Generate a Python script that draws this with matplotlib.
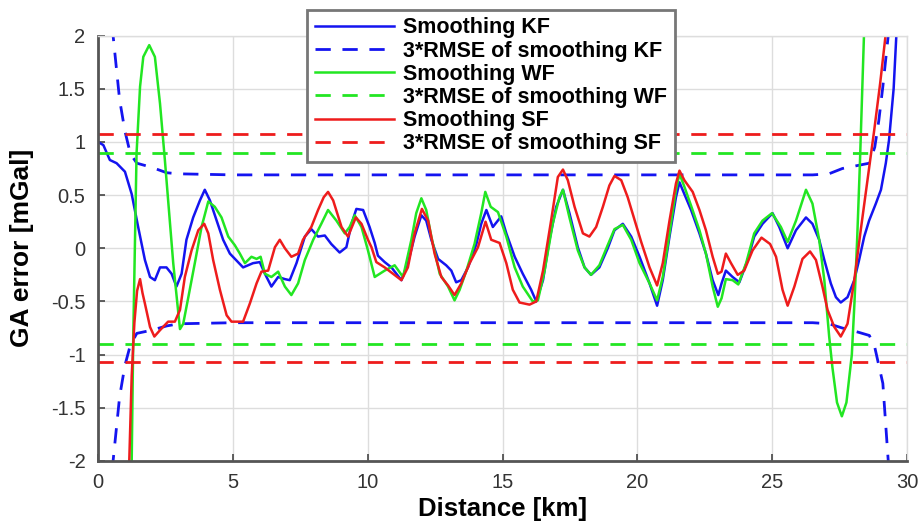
import matplotlib
matplotlib.use("Agg")
import matplotlib.pyplot as plt
import numpy as np

plt.rcParams['font.family'] = ['Liberation Sans', 'DejaVu Sans']
plt.rcParams['axes.unicode_minus'] = False

# smoothing error traces (distance in km, error in mGal)
kf_x = [0.0, 0.2, 0.44, 0.69, 1.0, 1.25, 1.49, 1.74, 1.93, 2.11, 2.3, 2.54, 2.73, 2.91, 3.1, 3.28,
        3.53, 3.78, 3.96, 4.15, 4.4, 4.64, 4.89, 5.38, 5.75, 6.0, 6.19, 6.43, 6.68, 6.93, 7.11,
        7.36, 7.67, 7.91, 8.16, 8.41, 8.65, 8.96, 9.21, 9.4, 9.58, 9.83, 10.07, 10.26, 10.38,
        10.63, 10.88, 11.25, 11.49, 11.74, 11.99, 12.17, 12.36, 12.61, 12.91, 13.1, 13.28,
        13.47, 13.72, 14.03, 14.21, 14.4, 14.64, 14.95, 15.14, 15.45, 15.75, 16.06, 16.25,
        16.5, 16.74, 16.99, 17.24, 17.48, 17.79, 18.04, 18.28, 18.59, 18.9, 19.15, 19.46,
        19.77, 20.08, 20.45, 20.73, 20.94, 21.19, 21.43, 21.56, 21.74, 21.99, 22.3, 22.54,
        22.79, 23.0, 23.12, 23.28, 23.53, 23.78, 24.09, 24.33, 24.64, 25.01, 25.26, 25.57,
        25.88, 26.25, 26.49, 26.74, 26.93, 27.17, 27.36, 27.54, 27.79, 28.04, 28.22, 28.41,
        28.59, 28.84, 29.03, 29.21, 29.33, 29.5, 29.6, 29.7]
kf_y = [1.0, 0.97, 0.83, 0.8, 0.72, 0.51, 0.2, -0.11, -0.27, -0.3, -0.18, -0.18, -0.24, -0.36,
        -0.24, 0.08, 0.29, 0.45, 0.55, 0.45, 0.26, 0.08, -0.05, -0.18, -0.14, -0.13, -0.24,
        -0.36, -0.27, -0.29, -0.3, -0.14, 0.11, 0.18, 0.11, 0.12, 0.04, -0.04, 0.01, 0.23,
        0.37, 0.36, 0.2, 0.05, -0.07, -0.13, -0.18, -0.3, -0.14, 0.11, 0.31, 0.26, 0.08, -0.1,
        -0.16, -0.21, -0.32, -0.3, -0.18, 0.04, 0.23, 0.36, 0.2, 0.3, 0.14, -0.08, -0.24,
        -0.39, -0.5, -0.3, 0.08, 0.39, 0.55, 0.33, 0.01, -0.18, -0.25, -0.18, 0.0, 0.17, 0.23,
        0.11, -0.08, -0.33, -0.54, -0.3, 0.11, 0.48, 0.62, 0.51, 0.36, 0.14, -0.05, -0.3,
        -0.44, -0.33, -0.21, -0.27, -0.32, -0.11, 0.11, 0.23, 0.33, 0.2, 0.0, 0.17, 0.29,
        0.23, 0.08, -0.11, -0.33, -0.46, -0.51, -0.46, -0.3, -0.11, 0.11, 0.26, 0.42, 0.55,
        0.8, 1.02, 1.5, 2.0, 2.4]

wf_x = [1.15, 1.25, 1.31, 1.43, 1.56, 1.68, 1.9, 2.11, 2.3, 2.48, 2.79, 3.04, 3.16, 3.35, 3.59,
        3.84, 4.09, 4.33, 4.58, 4.83, 5.07, 5.26, 5.45, 5.69, 5.88, 6.03, 6.19, 6.43, 6.68,
        6.93, 7.17, 7.42, 7.67, 7.98, 8.28, 8.53, 8.84, 9.15, 9.33, 9.52, 9.77, 10.01, 10.26,
        10.63, 11.0, 11.31, 11.62, 11.8, 11.99, 12.17, 12.36, 12.67, 12.98, 13.22, 13.41,
        13.66, 13.96, 14.21, 14.36, 14.56, 14.83, 15.14, 15.45, 15.75, 16.12, 16.31, 16.56,
        16.86, 17.11, 17.24, 17.48, 17.79, 18.04, 18.28, 18.59, 18.9, 19.15, 19.46, 19.77,
        20.08, 20.45, 20.73, 20.94, 21.19, 21.43, 21.56, 21.74, 21.99, 22.3, 22.54, 22.79,
        22.98, 23.12, 23.28, 23.53, 23.74, 24.03, 24.33, 24.64, 24.99, 25.32, 25.57, 25.88,
        26.25, 26.49, 26.74, 26.93, 27.11, 27.23, 27.4, 27.58, 27.75, 27.95, 28.05, 28.15,
        28.25, 28.35, 28.45]
wf_y = [-2.4, -2.0, -0.8, 0.89, 1.52, 1.8, 1.91, 1.8, 1.36, 0.83, -0.14, -0.76, -0.71, -0.46,
        -0.14, 0.2, 0.44, 0.39, 0.29, 0.11, 0.03, -0.05, -0.14, -0.08, -0.1, -0.08, -0.24,
        -0.27, -0.22, -0.36, -0.44, -0.33, -0.11, 0.08, 0.23, 0.36, 0.26, 0.14, 0.2, 0.31, 0.2,
        -0.02, -0.27, -0.21, -0.16, -0.27, 0.08, 0.33, 0.47, 0.36, 0.11, -0.24, -0.36, -0.49,
        -0.39, -0.21, 0.04, 0.33, 0.53, 0.39, 0.34, 0.11, -0.18, -0.36, -0.5, -0.49, -0.21,
        0.23, 0.48, 0.55, 0.29, -0.02, -0.18, -0.25, -0.16, 0.03, 0.18, 0.22, 0.08, -0.14,
        -0.33, -0.49, -0.27, 0.14, 0.55, 0.7, 0.58, 0.4, 0.17, -0.05, -0.36, -0.55, -0.47,
        -0.29, -0.3, -0.34, -0.14, 0.14, 0.26, 0.33, 0.2, 0.06, 0.26, 0.55, 0.42, 0.08, -0.3,
        -0.83, -1.12, -1.45, -1.58, -1.45, -1.0, -0.5, 0.1, 0.8, 1.6, 2.4]

sf_x = [1.1, 1.16, 1.25, 1.35, 1.45, 1.56, 1.65, 1.74, 1.93, 2.09, 2.3, 2.6, 2.85, 3.04, 3.22,
        3.47, 3.72, 3.94, 4.09, 4.27, 4.52, 4.77, 4.95, 5.38, 5.63, 5.88, 6.06, 6.31, 6.56,
        6.74, 6.93, 7.17, 7.42, 7.6, 7.91, 8.16, 8.37, 8.53, 8.72, 9.03, 9.27, 9.56, 9.77,
        10.01, 10.14, 10.32, 10.63, 10.94, 11.25, 11.49, 11.74, 12.01, 12.24, 12.48, 12.73,
        12.98, 13.22, 13.47, 13.78, 14.09, 14.37, 14.58, 14.89, 15.14, 15.38, 15.63, 16.0,
        16.25, 16.5, 16.8, 17.05, 17.24, 17.42, 17.67, 17.98, 18.22, 18.47, 18.72, 18.96,
        19.15, 19.4, 19.64, 19.89, 20.14, 20.45, 20.73, 20.94, 21.19, 21.43, 21.56, 21.74,
        22.05, 22.3, 22.54, 22.79, 22.98, 23.12, 23.28, 23.47, 23.72, 23.96, 24.27, 24.6,
        24.92, 25.14, 25.38, 25.57, 25.82, 26.12, 26.4, 26.62, 26.86, 27.05, 27.3, 27.54,
        27.79, 28.04, 28.28, 28.53, 28.78, 29.0, 29.2, 29.35]
sf_y = [-2.4, -2.0, -1.2, -0.7, -0.4, -0.29, -0.42, -0.52, -0.74, -0.83, -0.77, -0.69, -0.69,
        -0.58, -0.27, -0.02, 0.17, 0.23, 0.14, -0.11, -0.39, -0.63, -0.69, -0.69, -0.52,
        -0.33, -0.22, -0.21, 0.01, 0.08, 0.0, -0.08, -0.05, 0.08, 0.2, 0.36, 0.48, 0.53, 0.45,
        0.2, 0.11, 0.29, 0.23, 0.08, 0.01, -0.13, -0.18, -0.24, -0.3, -0.18, 0.14, 0.37, 0.26,
        -0.05, -0.27, -0.35, -0.44, -0.33, -0.14, 0.01, 0.25, 0.08, 0.05, -0.14, -0.39,
        -0.51, -0.53, -0.5, -0.21, 0.26, 0.67, 0.74, 0.64, 0.39, 0.14, 0.11, 0.2, 0.39, 0.59,
        0.68, 0.64, 0.48, 0.27, 0.06, -0.18, -0.35, -0.14, 0.26, 0.61, 0.73, 0.64, 0.53, 0.36,
        0.17, -0.08, -0.24, -0.22, -0.05, -0.14, -0.25, -0.21, -0.02, 0.1, 0.04, -0.08, -0.39,
        -0.54, -0.36, -0.1, -0.03, -0.11, -0.36, -0.58, -0.74, -0.83, -0.71, -0.3, 0.17, 0.64,
        1.11, 1.55, 2.0, 2.4]

# 3*RMSE envelopes
kf_env_x = [0.4, 0.56, 0.8, 1.0, 1.2, 1.44, 2.0, 2.55, 3.0, 5.0, 26.5, 27.1, 27.6, 28.2, 28.6,
            28.8, 28.95, 29.1, 29.3, 29.4]
kf_env_up = [2.6, 2.0, 1.4, 1.1, 0.89, 0.8, 0.76, 0.71, 0.70, 0.69, 0.69, 0.70, 0.75, 0.78,
             0.80, 0.95, 1.2, 1.52, 2.0, 2.6]
kf_env_lo = [-2.6, -2.0, -1.4, -1.1, -0.91, -0.80, -0.77, -0.73, -0.71, -0.70, -0.70, -0.71,
             -0.75, -0.79, -0.82, -0.93, -1.1, -1.27, -2.0, -2.6]
wf_env = 0.9
sf_env = 1.07

fig = plt.figure(figsize=(9.2, 5.23), dpi=100)
ax = fig.add_axes([0.1065, 0.1186, 0.8795, 0.8134])

blue = '#1414f0'
green = '#22e622'
red = '#ee1c1c'
dash = (5.5, 4.2)

ax.plot(kf_x, kf_y, color=blue, lw=1.8, label='Smoothing KF')
ax.plot(kf_env_x, kf_env_up, color=blue, lw=2, dashes=dash, label='3*RMSE of smoothing KF')
ax.plot(kf_env_x, kf_env_lo, color=blue, lw=2, dashes=dash)
ax.plot(wf_x, wf_y, color=green, lw=1.8, label='Smoothing WF')
ax.plot([0, 30], [wf_env, wf_env], color=green, lw=2, dashes=dash, label='3*RMSE of smoothing WF')
ax.plot([0, 30], [-wf_env, -wf_env], color=green, lw=2, dashes=dash)
ax.plot(sf_x, sf_y, color=red, lw=1.8, label='Smoothing SF')
ax.plot([0, 30], [sf_env, sf_env], color=red, lw=2, dashes=dash, label='3*RMSE of smoothing SF')
ax.plot([0, 30], [-sf_env, -sf_env], color=red, lw=2, dashes=dash)

ax.set_xlim(0, 30)
ax.set_ylim(-2, 2)
ax.set_xticks(np.arange(0, 31, 5))
ax.set_yticks(np.arange(-2, 2.01, 0.5))
ax.set_yticklabels(['-2', '-1.5', '-1', '-0.5', '0', '0.5', '1', '1.5', '2'])
ax.tick_params(direction='in', length=5, width=1.2, colors='#444444', labelsize=14.5,
               labelcolor='#333333', top=False, right=False)
ax.tick_params(axis='x', pad=9)
ax.tick_params(axis='y', pad=9)
ax.grid(True, color='#dddddd', lw=1)
for s in ['left', 'bottom']:
    ax.spines[s].set_color('#555555')
    ax.spines[s].set_linewidth(2)
for s in ['top', 'right']:
    ax.spines[s].set_color('#dddddd')
    ax.spines[s].set_linewidth(1)

ax.set_xlabel('Distance [km]', fontsize=18.5, fontweight='bold', labelpad=3)
ax.set_ylabel('GA error [mGal]', fontsize=19, fontweight='bold', labelpad=12)

leg = fig.legend(loc='upper left', bbox_to_anchor=(0.334, 0.981), borderaxespad=0,
                 prop={'weight': 'bold', 'size': 15.5}, handlelength=3.7, labelspacing=0.1,
                 borderpad=0.35, handletextpad=0.4, fancybox=False, framealpha=1)
leg.get_frame().set_edgecolor('#777777')
leg.get_frame().set_linewidth(2)

fig.savefig('out.png', dpi=100)
